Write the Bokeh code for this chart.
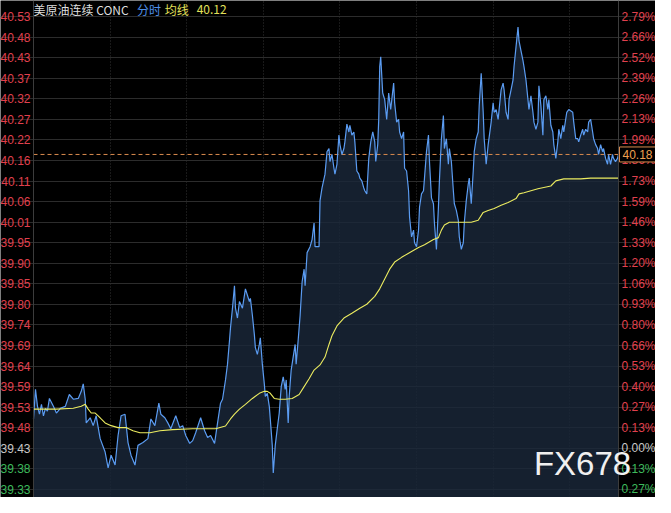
from bokeh.plotting import figure
from bokeh.models import LinearAxis, FixedTicker, Label
from bokeh.embed import file_html
from bokeh.resources import INLINE

# ---------------- data ----------------
instrument = "美原油连续 CONC"
mode_text = "分时"
avg_text = "均线"
prev_close = 39.43
last_price = 40.18
avg_last = 40.12
watermark = "FX678"

# (minute index, price)
price_series = [
    (0, 39.509), (2, 39.584), (4, 39.541), (6, 39.521), (8, 39.546), (10, 39.517), (12, 39.536), (14, 39.529),
    (16, 39.561), (20, 39.541), (23, 39.524), (27, 39.536), (32, 39.541), (36, 39.571), (40, 39.559), (45, 39.561),
    (48, 39.579), (50, 39.598), (52, 39.559), (53, 39.499), (57, 39.512), (60, 39.492), (63, 39.517), (67, 39.459),
    (72, 39.425), (75, 39.385), (78, 39.417), (82, 39.392), (85, 39.467), (88, 39.517), (92, 39.521), (95, 39.449),
    (98, 39.417), (102, 39.392), (105, 39.442), (110, 39.449), (115, 39.459), (118, 39.509), (122, 39.492), (126, 39.549),
    (128, 39.521), (132, 39.512), (135, 39.499), (138, 39.484), (143, 39.517), (147, 39.487), (150, 39.492), (153, 39.467),
    (157, 39.447), (160, 39.454), (163, 39.474), (168, 39.512), (172, 39.479), (175, 39.462), (178, 39.467), (182, 39.447),
    (185, 39.499), (188, 39.549), (190, 39.559), (193, 39.608), (195, 39.648), (197, 39.708), (198, 39.740), (200, 39.790),
    (202, 39.847), (203, 39.790), (205, 39.765), (207, 39.807), (210, 39.790), (213, 39.839), (217, 39.807), (218, 39.815),
    (220, 39.772), (222, 39.723), (223, 39.690), (225, 39.673), (227, 39.698), (228, 39.715), (230, 39.648), (232, 39.598),
    (233, 39.566), (235, 39.574), (237, 39.541), (238, 39.509), (240, 39.442), (241, 39.372), (243, 39.442), (245, 39.484),
    (247, 39.524), (249, 39.591), (251, 39.616), (253, 39.584), (254, 39.608), (256, 39.499), (257, 39.566), (259, 39.633),
    (261, 39.666), (263, 39.698), (264, 39.648), (266, 39.708), (267, 39.740), (268, 39.772), (270, 39.857), (272, 39.889),
    (273, 39.847), (275, 39.931), (278, 39.946), (280, 39.964), (282, 40.006), (283, 39.946), (287, 39.946), (288, 40.063),
    (290, 40.095), (293, 40.130), (295, 40.187), (297, 40.195), (298, 40.162), (300, 40.180), (302, 40.145), (303, 40.130),
    (305, 40.155), (307, 40.229), (308, 40.205), (310, 40.180), (312, 40.195), (313, 40.212), (315, 40.257), (317, 40.237),
    (318, 40.254), (320, 40.229), (322, 40.237), (323, 40.212), (325, 40.138), (327, 40.130), (328, 40.120), (330, 40.113),
    (332, 40.095), (333, 40.088), (335, 40.080), (337, 40.170), (339, 40.212), (341, 40.237), (343, 40.212), (344, 40.162),
    (346, 40.205), (347, 40.269), (348, 40.403), (349, 40.428), (351, 40.336), (353, 40.319), (355, 40.269), (357, 40.336),
    (359, 40.294), (362, 40.361), (363, 40.311), (365, 40.262), (367, 40.269), (368, 40.237), (370, 40.220), (372, 40.237),
    (373, 40.145), (375, 40.138), (377, 40.088), (378, 40.021), (380, 39.971), (382, 39.988), (383, 39.956), (385, 39.946),
    (387, 39.988), (388, 40.046), (390, 40.080), (392, 40.088), (393, 40.120), (395, 40.187), (397, 40.229), (398, 40.162),
    (400, 40.070), (402, 40.055), (403, 40.006), (405, 39.939), (407, 40.046), (408, 40.113), (410, 40.220), (412, 40.279),
    (413, 40.195), (415, 40.220), (417, 40.155), (418, 40.195), (420, 40.162), (422, 40.088), (423, 40.055), (425, 40.038),
    (427, 40.013), (428, 39.971), (430, 39.939), (432, 39.956), (433, 40.006), (435, 40.063), (437, 40.105), (438, 40.120),
    (440, 40.055), (442, 40.138), (443, 40.187), (445, 40.220), (447, 40.237), (448, 40.304), (450, 40.386), (452, 40.287),
    (453, 40.220), (455, 40.155), (457, 40.205), (460, 40.262), (462, 40.311), (463, 40.287), (465, 40.294), (467, 40.269),
    (470, 40.344), (472, 40.361), (473, 40.344), (475, 40.287), (477, 40.269), (478, 40.319), (480, 40.344), (482, 40.369),
    (483, 40.403), (485, 40.453), (487, 40.503), (488, 40.468), (490, 40.443), (492, 40.418), (493, 40.403), (495, 40.369),
    (497, 40.319), (498, 40.294), (500, 40.329), (502, 40.287), (503, 40.262), (505, 40.244), (507, 40.262), (508, 40.354),
    (510, 40.304), (512, 40.229), (513, 40.319), (515, 40.329), (517, 40.294), (518, 40.319), (520, 40.254), (522, 40.237),
    (523, 40.205), (525, 40.170), (527, 40.212), (528, 40.244), (530, 40.220), (532, 40.254), (533, 40.237), (536, 40.287),
    (538, 40.294), (542, 40.287), (543, 40.262), (545, 40.220), (547, 40.220), (548, 40.212), (550, 40.229), (552, 40.244),
    (553, 40.229), (555, 40.244), (557, 40.237), (558, 40.262), (560, 40.269), (562, 40.237), (563, 40.220), (565, 40.205),
    (567, 40.195), (568, 40.180), (570, 40.205), (572, 40.187), (573, 40.195), (575, 40.170), (577, 40.155), (578, 40.180),
    (580, 40.155), (582, 40.180), (583, 40.170), (585, 40.162), (587, 40.170), (588, 40.180),
]

# (minute index, average price)
avg_series = [
    (0, 39.534), (10, 39.534), (23, 39.534), (40, 39.536), (48, 39.541), (52, 39.546), (55, 39.534), (58, 39.524),
    (62, 39.524), (65, 39.517), (68, 39.509), (72, 39.499), (78, 39.492), (85, 39.487), (93, 39.487), (100, 39.479),
    (107, 39.474), (117, 39.474), (127, 39.479), (140, 39.482), (160, 39.484), (183, 39.484), (193, 39.491), (198, 39.509),
    (202, 39.521), (207, 39.534), (213, 39.546), (220, 39.561), (227, 39.574), (232, 39.579), (235, 39.579), (238, 39.574),
    (242, 39.561), (247, 39.559), (253, 39.559), (260, 39.561), (267, 39.571), (272, 39.591), (277, 39.611), (282, 39.633),
    (288, 39.646), (293, 39.666), (297, 39.698), (300, 39.720), (305, 39.745), (312, 39.765), (320, 39.777), (328, 39.790),
    (335, 39.800), (343, 39.820), (348, 39.839), (353, 39.864), (358, 39.889), (363, 39.907), (370, 39.919), (380, 39.934),
    (387, 39.944), (393, 39.951), (402, 39.964), (407, 39.969), (410, 39.988), (413, 40.001), (418, 40.008), (440, 40.008),
    (447, 40.013), (452, 40.033), (457, 40.038), (463, 40.043), (470, 40.051), (477, 40.058), (485, 40.068), (488, 40.080),
    (493, 40.083), (507, 40.093), (520, 40.100), (525, 40.113), (533, 40.118), (550, 40.118), (560, 40.120), (588, 40.120),
]

left_labels = ["40.53", "40.48", "40.43", "40.37", "40.32", "40.27", "40.22", "40.16", "40.11", "40.06", "40.01", "39.95",
               "39.90", "39.85", "39.80", "39.74", "39.69", "39.64", "39.59", "39.53", "39.48", "39.43", "39.38", "39.33"]
right_labels = ["2.79%", "2.66%", "2.52%", "2.39%", "2.26%", "2.13%", "1.99%", "1.86%", "1.73%", "1.59%", "1.46%", "1.33%",
                "1.20%", "1.06%", "0.93%", "0.80%", "0.66%", "0.53%", "0.40%", "0.27%", "0.13%", "0.00%", "0.13%", "0.27%"]
time_grid = [77, 154, 231, 308, 385, 462, 539]

# ---------------- styling ----------------
RED = "#e0404e"
GRAY = "#c8c8c8"
GREEN = "#3dba5c"
FONT = "Liberation Sans"
CJK = "Noto Sans CJK SC"

t = [a for a, _ in price_series]
price = [b for _, b in price_series]
at = [a for a, _ in avg_series]
avg = [b for _, b in avg_series]
t0, t1 = t[0], t[-1]

W, H = 655, 497
x_lo, x_hi = -33.17, 625.19
y_lo, y_hi = 39.3097, 40.5706

top_v, bot_v = float(left_labels[0]), float(left_labels[-1])
n = len(left_labels)
step = (top_v - bot_v) / (n - 1)
tick_vals = [round(top_v - k * step, 6) for k in range(n)]


def kind(lbl):
    v = float(lbl)
    if abs(v - prev_close) < 1e-9:
        return "flat"
    return "up" if v > prev_close else "down"


kinds = [kind(l) for l in left_labels]
kind_color = {"up": RED, "flat": GRAY, "down": GREEN}

p = figure(width=W, height=H, x_range=(x_lo, x_hi), y_range=(y_lo, y_hi),
           output_backend="svg", toolbar_location=None,
           x_axis_location=None, y_axis_location=None,
           background_fill_color="#000000", border_fill_color="#000000",
           outline_line_color=None,
           min_border_left=0, min_border_right=0, min_border_top=0, min_border_bottom=0)

all_ticker = FixedTicker(ticks=tick_vals)

# grids, limited to the data area
p.ygrid[0].ticker = all_ticker
p.ygrid[0].bounds = (t0, t1)
p.ygrid[0].grid_line_color = "#2c2c2c"
p.xgrid[0].ticker = FixedTicker(ticks=time_grid)
p.xgrid[0].grid_line_color = "#333333"
p.xgrid[0].grid_line_dash = "1 2"

# area and lines
p.varea(x=t, y1=y_lo - 0.1, y2=price, fill_color="#1a2739", fill_alpha=0.82)
p.segment(x0=[t0], x1=[t1], y0=[last_price], y1=[last_price], line_color="#d98a4e",
          line_dash="4 3", line_width=1)
p.line(t, price, line_color="#5b9cf2", line_width=1.2)
p.line(at, avg, line_color="#ecec60", line_width=1.1)

# axes fixed at both edges of the data area, one per label colour
for side, loc, labels in (("left", t0, left_labels), ("right", t1, right_labels)):
    first = True
    for kd in ("up", "flat", "down"):
        vals = [v for v, k in zip(tick_vals, kinds) if k == kd]
        labs = [l for l, k in zip(labels, kinds) if k == kd]
        ax = LinearAxis(ticker=FixedTicker(ticks=vals), fixed_location=loc,
                        major_label_overrides=dict(zip(vals, labs)))
        ax.axis_line_color = "#3c3c3c" if first else None
        ax.major_tick_line_color = None
        ax.minor_tick_line_color = None
        ax.major_tick_out = 0
        ax.major_tick_in = 0
        ax.major_label_standoff = 3
        ax.major_label_text_font = FONT
        ax.major_label_text_font_size = "12px"
        ax.major_label_text_color = kind_color[kd]
        p.add_layout(ax, side)
        first = False

# last price box on the right scale
p.add_layout(Label(x=t1, y=last_price, x_offset=1, text=f"{last_price:.2f}",
                   text_align="left", text_baseline="middle", text_font=FONT, text_font_size="12px",
                   text_color="#f0a050", background_fill_color="#000000",
                   border_line_color="#d98a4e", padding=3))

# header
hy = 40.549
p.add_layout(Label(x=0, y=hy, text=instrument, text_baseline="middle", text_font=CJK,
                   text_font_size="12px", text_color="#dedede"))
p.add_layout(Label(x=104, y=hy, text=mode_text, text_baseline="middle", text_font=CJK,
                   text_font_size="12px", text_color="#4d8fe8"))
p.add_layout(Label(x=132, y=hy, text=avg_text, text_baseline="middle", text_font=CJK,
                   text_font_size="12px", text_color="#e3e05a"))
p.add_layout(Label(x=164, y=hy, text=f"{avg_last:.2f}", text_baseline="middle", text_font=CJK,
                   text_font_size="12px", text_color="#e3e05a"))

# watermark
p.add_layout(Label(x=503, y=39.397, text=watermark, text_baseline="middle", text_font=FONT,
                   text_font_size="33px", text_color="#f0f0f0"))

open("out.html", "w").write(file_html(p, INLINE))
